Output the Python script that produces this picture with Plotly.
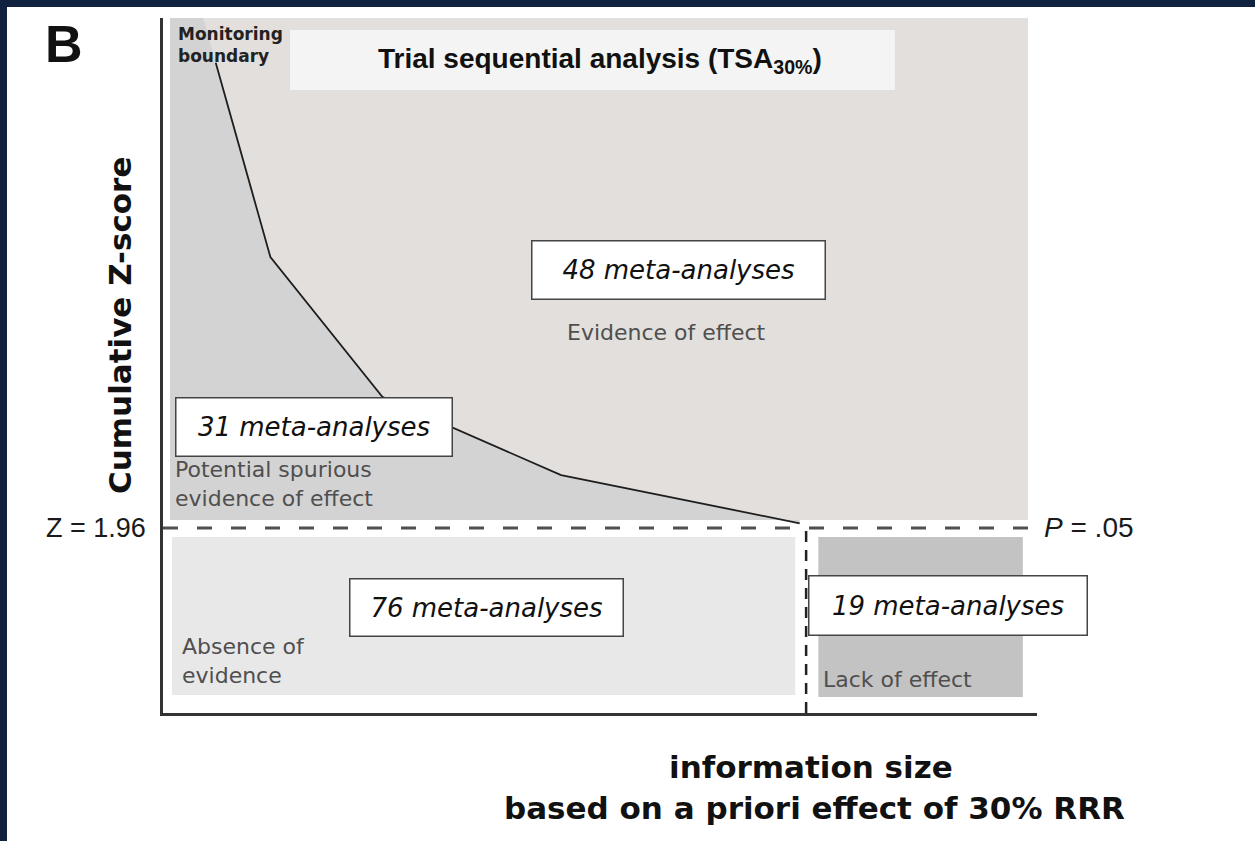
import plotly.graph_objects as go

# ---------------- data ----------------
BOUNDARY_INFO = [0.082, 0.167, 0.341, 0.619, 0.99]   # information fraction
BOUNDARY_Z = [6.89, 4.83, 3.35, 2.52, 2.01]           # monitoring boundary (Z)
Z_CRIT = 1.96                                         # conventional P = .05 boundary
REQUIRED_IS = 1.0                                     # required information size
COUNTS = [48, 31, 76, 19]
ZONE_NAMES = ["Evidence of effect",
              "Potential spurious<br>evidence of effect",
              "Absence of<br>evidence",
              "Lack of effect"]
PANEL = "B"
TITLE = "Trial sequential analysis (TSA<sub>30%</sub>)"
Y_TITLE = "Cumulative Z-score"
X_TITLE = ["information size", "based on a priori effect of 30% RRR"]
Z_LABEL = "Z = 1.96"
P_LABEL = "<i>P</i> = .05"

XMAX = 1.359
YMAX = 7.363

NAVY = "#10223f"
UPPER = "#e2dfdc"
UNDER = "#d4d3d3"
LOWL = "#e8e8e8"
LOWR = "#c3c3c3"
DARK = "#333333"
GREY_TXT = "#4f4f4f"


def xp(v):  # data x -> paper x
    return v / XMAX


def yp(v):  # data y -> paper y
    return v / YMAX


fig = go.Figure()

# darker zone below the monitoring boundary (left of curve)
top_x = BOUNDARY_INFO[0] - (BOUNDARY_INFO[1] - BOUNDARY_INFO[0]) * (YMAX - BOUNDARY_Z[0]) / (BOUNDARY_Z[0] - BOUNDARY_Z[1])
fill_x = [0.011, top_x] + BOUNDARY_INFO + [BOUNDARY_INFO[-1], 0.011]
fill_y = [YMAX, YMAX] + BOUNDARY_Z + [Z_CRIT + 0.085, Z_CRIT + 0.085]
fig.add_trace(go.Scatter(x=fill_x, y=fill_y, fill="toself", fillcolor=UNDER,
                         mode="lines", line=dict(width=0), hoverinfo="skip",
                         showlegend=False))

# monitoring boundary
fig.add_trace(go.Scatter(x=BOUNDARY_INFO, y=BOUNDARY_Z, mode="lines",
                         line=dict(color="#1e1e1e", width=1.8),
                         hoverinfo="skip", showlegend=False))

# Z = 1.96 dashed line
fig.add_trace(go.Scatter(x=[0, XMAX], y=[Z_CRIT, Z_CRIT], mode="lines",
                         line=dict(color="#505050", width=3, dash="15px,19px"),
                         hoverinfo="skip", showlegend=False, cliponaxis=False))
# required information size dashed line
fig.add_trace(go.Scatter(x=[REQUIRED_IS, REQUIRED_IS], y=[0, Z_CRIT], mode="lines",
                         line=dict(color="#222222", width=2.5, dash="11px,8px"),
                         hoverinfo="skip", showlegend=False))
fig.add_trace(go.Scatter(x=[REQUIRED_IS], y=[-0.055], mode="markers",
                         marker=dict(symbol="triangle-up", size=8, color="#222222"),
                         hoverinfo="skip", showlegend=False, cliponaxis=False))

shapes = []
# upper zone
shapes.append(dict(type="rect", xref="x", yref="y", x0=0.011, x1=1.345,
                   y0=Z_CRIT + 0.085, y1=YMAX, fillcolor=UPPER, line_width=0, layer="below"))
# lower zones
shapes.append(dict(type="rect", xref="x", yref="y", x0=0.014, x1=0.983,
                   y0=0.19, y1=Z_CRIT - 0.095, fillcolor=LOWL, line_width=0, layer="below"))
shapes.append(dict(type="rect", xref="x", yref="y", x0=1.019, x1=1.337,
                   y0=0.17, y1=Z_CRIT - 0.095, fillcolor=LOWR, line_width=0, layer="below"))
# title box
shapes.append(dict(type="rect", xref="x", yref="y", x0=0.1975, x1=1.138,
                   y0=6.60, y1=7.236, fillcolor="#f4f4f4", line_width=0, layer="below"))
# navy frame (top and left)
shapes.append(dict(type="rect", xref="paper", yref="paper", x0=-0.3, x1=1.5,
                   y0=(713 - 7) / 695, y1=1.2, fillcolor=NAVY, line_width=0, layer="above"))
shapes.append(dict(type="rect", xref="paper", yref="paper", x0=-0.3, x1=(7 - 163) / 874,
                   y0=-0.5, y1=1.2, fillcolor=NAVY, line_width=0, layer="above"))

ann = []
box_font = dict(family="DejaVu Sans", size=26, color="#111111", style="italic")
box_specs = [  # (x, y, w, h)
    (0.8017, 4.693, 292, 57),
    (0.2348, 3.030, 275, 57),
    (0.5031, 1.118, 272, 56),
    (1.2208, 1.139, 277, 58),
]
for n, (bx, by, bw, bh) in zip(COUNTS, box_specs):
    ann.append(dict(x=bx, y=by, xref="x", yref="y", text=f"{n} meta-analyses",
                    showarrow=False, font=box_font, bgcolor="white",
                    bordercolor="#444444", borderwidth=1.5, borderpad=0,
                    width=bw, height=bh, xanchor="center", yanchor="middle"))

zone_font = dict(family="DejaVu Sans", size=22, color=GREY_TXT)
zone_pos = [(0.625, 4.026), (0.0156, 2.421), (0.0264, 0.546), (1.0233, 0.35)]
for name, (zx, zy) in zip(ZONE_NAMES, zone_pos):
    ann.append(dict(x=zx, y=zy, xref="x", yref="y", text=name, showarrow=False,
                    font=zone_font, align="left", xanchor="left", yanchor="middle"))

ann.append(dict(x=0.0202, y=7.077, xref="x", yref="y", text="Monitoring<br>boundary",
                showarrow=False, align="left", xanchor="left", yanchor="middle",
                font=dict(family="DejaVu Sans", size=17, color="#222222", weight="bold")))
ann.append(dict(x=0.6796, y=6.918, xref="x", yref="y", text=TITLE, showarrow=False,
                xanchor="center", yanchor="middle",
                font=dict(family="Liberation Sans", size=28, color="#111111", weight="bold")))

# labels outside the plotting area (paper coordinates)
ann.append(dict(x=xp(-0.0233), y=yp(Z_CRIT), xref="paper", yref="paper", text=Z_LABEL,
                showarrow=False, xanchor="right", yanchor="middle",
                font=dict(family="Liberation Sans", size=27, color="#1a1a1a")))
ann.append(dict(x=xp(1.367), y=yp(Z_CRIT), xref="paper", yref="paper", text=P_LABEL,
                showarrow=False, xanchor="left", yanchor="middle",
                font=dict(family="Liberation Sans", size=28, color="#1a1a1a")))
ann.append(dict(x=xp(-0.1547), y=yp(7.087), xref="paper", yref="paper", text=PANEL,
                showarrow=False, xanchor="center", yanchor="middle",
                font=dict(family="Liberation Sans", size=52, color="#111111", weight="bold")))
ann.append(dict(x=xp(-0.0669), y=yp(4.11), xref="paper", yref="paper", text=Y_TITLE,
                showarrow=False, textangle=-90, xanchor="center", yanchor="middle",
                font=dict(family="DejaVu Sans", size=31, color="#111111", weight="bold")))
ann.append(dict(x=xp(1.0078), y=yp(-0.572), xref="paper", yref="paper", text=X_TITLE[0],
                showarrow=False, xanchor="center", yanchor="middle",
                font=dict(family="DejaVu Sans", size=31, color="#111111", weight="bold")))
ann.append(dict(x=xp(1.0125), y=yp(-1.006), xref="paper", yref="paper", text=X_TITLE[1],
                showarrow=False, xanchor="center", yanchor="middle",
                font=dict(family="DejaVu Sans", size=31, color="#111111", weight="bold")))

fig.update_layout(
    width=1255, height=841,
    margin=dict(l=163, r=1255 - 1037, t=18, b=841 - 713, pad=0),
    paper_bgcolor="white", plot_bgcolor="white",
    shapes=shapes, annotations=ann, showlegend=False,
    xaxis=dict(range=[0, XMAX], showgrid=False, zeroline=False, showticklabels=False,
               ticks="", showline=True, linecolor=DARK, linewidth=3, fixedrange=True),
    yaxis=dict(range=[0, YMAX], showgrid=False, zeroline=False, showticklabels=False,
               ticks="", showline=True, linecolor=DARK, linewidth=3, fixedrange=True),
)

fig.write_html("out.html", config={"displayModeBar": False},
               post_script="document.body.style.margin='0';document.body.style.overflow='hidden';")
